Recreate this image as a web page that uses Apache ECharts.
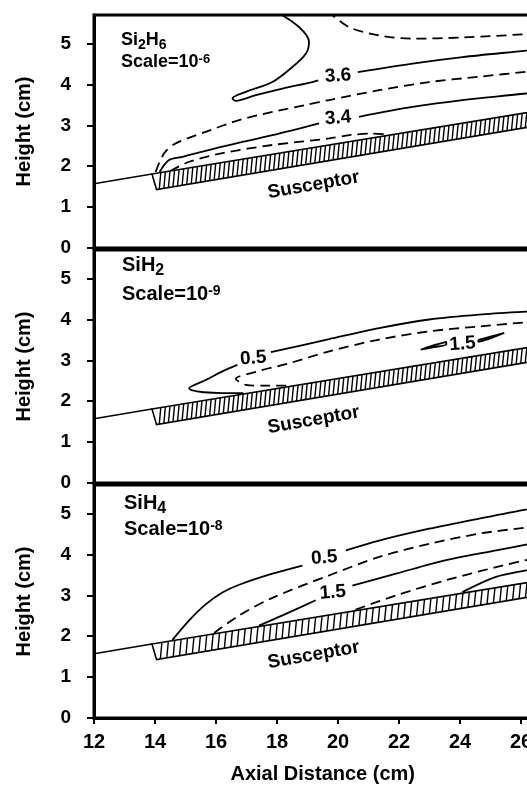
<!DOCTYPE html>
<html>
<head>
<meta charset="utf-8">
<script src="https://cdn.jsdelivr.net/npm/echarts@6/dist/echarts.min.js"></script>
<style>
  html, body { margin: 0; padding: 0; background: #fff; }
  #chart { width: 527px; height: 785px; }
</style>
</head>
<body>
<div id="chart"></div>
<script>
// geometry of the reactor wall + susceptor (same in all three panels)
const inletWall = [[12, 1.57], [13.9, 1.81]]
const susceptorTop = [[13.9, 1.81], [27, 3.41]]
const susceptorBottom = [[14.05, 1.43], [27, 3.05]]

// Si2H6 panel (scale 1e-6)
const si2h6Solid36 = [
  [[17.95, 5.8], [18.73, 5.40], [19.05, 5.04], [18.95, 4.76], [18.51, 4.43], [17.85, 4.06], [16.98, 3.82], [16.54, 3.66], [16.65, 3.60], [17.31, 3.74], [18.18, 3.90], [19.16, 4.06], [19.35, 4.10]],
  [[20.65, 4.30], [22.44, 4.51], [24.08, 4.67], [26.16, 4.83], [27, 4.90]]
]
const si2h6DashTop = [[19.65, 5.8], [20.37, 5.40], [21.35, 5.20], [22.44, 5.12], [24.08, 5.15], [26.16, 5.23], [27, 5.27]]
const si2h6DashMid = [[14.02, 1.86], [14.30, 2.32], [14.68, 2.56], [15.66, 2.84], [16.76, 3.13], [17.85, 3.33], [18.95, 3.50], [19.71, 3.62], [21.35, 3.86], [22.99, 4.06], [24.63, 4.19], [26.16, 4.31], [27, 4.37]]
const si2h6Solid34 = [
  [[14.15, 1.86], [14.46, 2.15], [14.90, 2.23], [16.21, 2.48], [17.85, 2.76], [19.38, 3.05]],
  [[20.69, 3.21], [22.44, 3.45], [24.08, 3.62], [26.16, 3.78], [27, 3.87]]
]
const si2h6DashLow = [[14.5, 1.88], [15.12, 2.11], [16.21, 2.32], [17.85, 2.52], [19.71, 2.68], [20.37, 2.76], [21.13, 2.80], [21.6, 2.78]]
const si2h6Labels = [[20.0, 4.21, '3.6'], [20.0, 3.18, '3.4']]

// SiH2 panel (scale 1e-9)
const sih2Solid05 = [
  [[16.9, 2.20], [16.21, 2.20], [15.6, 2.22], [15.2, 2.27], [15.12, 2.32], [15.3, 2.40], [15.66, 2.52], [16.21, 2.73], [16.70, 2.89]],
  [[17.8, 3.20], [19.71, 3.52], [21.35, 3.79], [22.99, 4.00], [24.63, 4.12], [26.16, 4.19], [27, 4.22]]
]
const sih2Dash10 = [[18.3, 2.38], [17.63, 2.38], [16.98, 2.40], [16.65, 2.55], [17.31, 2.72], [18.40, 2.93], [19.71, 3.22], [21.35, 3.51], [22.99, 3.71], [24.63, 3.83], [26.16, 3.93], [27, 3.98]]
const sih2Solid15 = [
  [[22.71, 3.26], [23.1, 3.36], [23.55, 3.45], [23.55, 3.39], [23.1, 3.32], [22.71, 3.26]],
  [[24.6, 3.50], [25.0, 3.58], [25.45, 3.67], [25.0, 3.54], [24.6, 3.45], [24.6, 3.50]]
]
const sih2Labels = [[17.22, 3.05, '0.5'], [24.08, 3.40, '1.5']]

// SiH4 panel (scale 1e-8)
const sih4Solid05 = [
  [[14.57, 1.91], [15.12, 2.39], [15.66, 2.78], [16.21, 3.07], [16.76, 3.26], [17.85, 3.53], [18.83, 3.73]],
  [[20.26, 4.10], [21.35, 4.34], [22.99, 4.63], [24.63, 4.88], [26.16, 5.10], [27, 5.19]]
]
const sih4Dash10 = [[15.94, 2.08], [16.76, 2.51], [17.85, 2.94], [19.71, 3.49], [21.35, 3.94], [22.99, 4.26], [24.63, 4.51], [26.16, 4.66], [27, 4.74]]
const sih4Solid15 = [
  [[17.41, 2.26], [18.18, 2.51], [19.27, 2.88]],
  [[20.47, 3.24], [21.90, 3.53], [23.54, 3.86], [25.18, 4.10], [26.16, 4.24], [27, 4.35]]
]
const sih4Dash20 = [[20.58, 2.65], [21.90, 3.00], [23.54, 3.37], [25.18, 3.69], [26.16, 3.86], [27, 3.97]]
const sih4Solid25 = [[24.08, 3.08], [25.18, 3.45], [26.16, 3.61], [27, 3.73]]
const sih4Labels = [[19.55, 3.92, '0.5'], [19.83, 3.07, '1.5']]

const susceptorLabel = [19.2, 1.54, 'Susceptor']

const FONT = 'Arial, "Liberation Sans", sans-serif'
const gridTops = [15, 250, 485]

const panels = [
  {
    title: '{m|Si}{s|2}{m|H}{s|6}\n{m|Scale=10}{p|-6}', titleSize: 18, titleLh: 22, titleTop: 31, titleLeft: 121,
    solid: [...si2h6Solid36, ...si2h6Solid34],
    dashed: [si2h6DashTop, si2h6DashMid, si2h6DashLow],
    labels: si2h6Labels, hatch: 0.15
  },
  {
    title: '{m|SiH}{s|2}\n{m|Scale=10}{p|-9}', titleSize: 20, titleLh: 29, titleTop: 255, titleLeft: 122,
    solid: [...sih2Solid05, ...sih2Solid15],
    dashed: [sih2Dash10],
    labels: sih2Labels, hatch: 0.15
  },
  {
    title: '{m|SiH}{s|4}\n{m|Scale=10}{p|-8}', titleSize: 20, titleLh: 26, titleTop: 493, titleLeft: 124,
    solid: [...sih4Solid05, ...sih4Solid15, sih4Solid25],
    dashed: [sih4Dash10, sih4Dash20],
    labels: sih4Labels, hatch: 0.21
  }
]

const lerp = (seg, x) => {
  const [a, b] = seg
  return a[1] + (b[1] - a[1]) * (x - a[0]) / (b[0] - a[0])
}

const renderSusceptor = (spacing) => (params, api) => {
  const tl = api.coord(susceptorTop[0])
  const tr = api.coord(susceptorTop[1])
  const br = api.coord(susceptorBottom[1])
  const bl = api.coord(susceptorBottom[0])
  const children = [{
    type: 'polygon',
    shape: { points: [tl, tr, br, bl] },
    style: { fill: '#fff', stroke: '#000', lineWidth: 1.6 }
  }]
  // hatching
  for (let x = susceptorBottom[0][0] + spacing * 0.6; x < susceptorBottom[1][0]; x += spacing) {
    const p1 = api.coord([x, lerp(susceptorBottom, x)])
    const p2 = api.coord([x + 0.05, lerp(susceptorTop, x + 0.05)])
    children.push({
      type: 'line',
      shape: { x1: p1[0], y1: p1[1], x2: p2[0], y2: p2[1] },
      style: { stroke: '#000', lineWidth: 1.4 }
    })
  }
  return { type: 'group', children }
}

// text labels on the contours, placed in data coordinates
const renderText = (items) => (params, api) => {
  const pt = api.coord([api.value(0), api.value(1)])
  const txt = items[params.dataIndex][2]
  const rot = txt === 'Susceptor' ? 10 : 4
  return {
    type: 'text',
    x: pt[0], y: pt[1],
    rotation: rot * Math.PI / 180,
    style: {
      text: txt, fill: '#000', align: 'center', verticalAlign: 'middle',
      font: 'bold 19px ' + FONT
    }
  }
}

const grids = []
const xAxes = []
const yAxes = []
const titles = []
const series = []

panels.forEach((p, i) => {
  const last = i === panels.length - 1
  grids.push({
    left: 94, top: gridTops[i], width: 457.5, height: 233,
    outerBoundsMode: 'none', containLabel: false,
    show: true, borderColor: '#000', borderWidth: 3
  })
  xAxes.push({
    type: 'value', gridIndex: i, min: 12, max: 27, interval: 2,
    axisLine: { lineStyle: { color: '#000', width: 3 } },
    axisTick: { show: last, length: 6, lineStyle: { color: '#000', width: 2 } },
    axisLabel: { show: last, color: '#000', fontSize: 20, fontWeight: 'bold', fontFamily: FONT, margin: 14, showMaxLabel: false },
    splitLine: { show: false },
    name: last ? 'Axial Distance (cm)' : '',
    nameLocation: 'middle', nameGap: 46,
    nameTextStyle: { color: '#000', fontSize: 20, fontWeight: 'bold', fontFamily: FONT }
  })
  yAxes.push({
    type: 'value', gridIndex: i, min: 0, max: 5.7, interval: 1,
    axisLine: { lineStyle: { color: '#000', width: 3 } },
    axisTick: { length: 7, lineStyle: { color: '#000', width: 2 } },
    axisLabel: { color: '#000', fontSize: 19, fontWeight: 'bold', fontFamily: FONT, margin: 23, showMaxLabel: false },
    splitLine: { show: false },
    name: 'Height (cm)', nameLocation: 'middle', nameGap: 60,
    nameTextStyle: { color: '#000', fontSize: 20, fontWeight: 'bold', fontFamily: FONT }
  })
  const fs = p.titleSize
  titles.push({
    text: p.title, left: p.titleLeft, top: p.titleTop, padding: 0,
    textStyle: {
      rich: {
        m: { fontSize: fs, fontWeight: 'bold', fontFamily: FONT, color: '#000', lineHeight: p.titleLh, verticalAlign: 'top' },
        s: { fontSize: Math.round(fs * 0.8), fontWeight: 'bold', fontFamily: FONT, color: '#000', verticalAlign: 'top', padding: [Math.round(fs * 0.4), 0, 0, 0] },
        p: { fontSize: Math.round(fs * 0.7), fontWeight: 'bold', fontFamily: FONT, color: '#000', lineHeight: 10, verticalAlign: 'top' }
      }
    }
  })

  series.push({
    type: 'custom', xAxisIndex: i, yAxisIndex: i, silent: true,
    data: [[20, 2]], renderItem: renderSusceptor(p.hatch), z: 3
  })
  series.push({
    type: 'line', xAxisIndex: i, yAxisIndex: i, data: inletWall, symbol: 'none', silent: true,
    lineStyle: { color: '#000', width: 1.6 }
  })
  p.solid.forEach(seg => series.push({
    type: 'line', xAxisIndex: i, yAxisIndex: i, data: seg, symbol: 'none', smooth: 0.3, silent: true,
    lineStyle: { color: '#000', width: 1.8 }, z: 2
  }))
  p.dashed.forEach(seg => series.push({
    type: 'line', xAxisIndex: i, yAxisIndex: i, data: seg, symbol: 'none', smooth: 0.3, silent: true,
    lineStyle: { color: '#000', width: 1.8, type: [10, 6] }, z: 2
  }))
  const items = p.labels.concat([susceptorLabel])
  series.push({
    type: 'custom', xAxisIndex: i, yAxisIndex: i, silent: true,
    data: items.map(d => [d[0], d[1]]),
    renderItem: renderText(items),
    z: 5
  })
})

const chart = echarts.init(document.getElementById('chart'))
chart.setOption({
  backgroundColor: '#fff',
  animation: false,
  title: titles,
  grid: grids,
  xAxis: xAxes,
  yAxis: yAxes,
  series
})
</script>
</body>
</html>
